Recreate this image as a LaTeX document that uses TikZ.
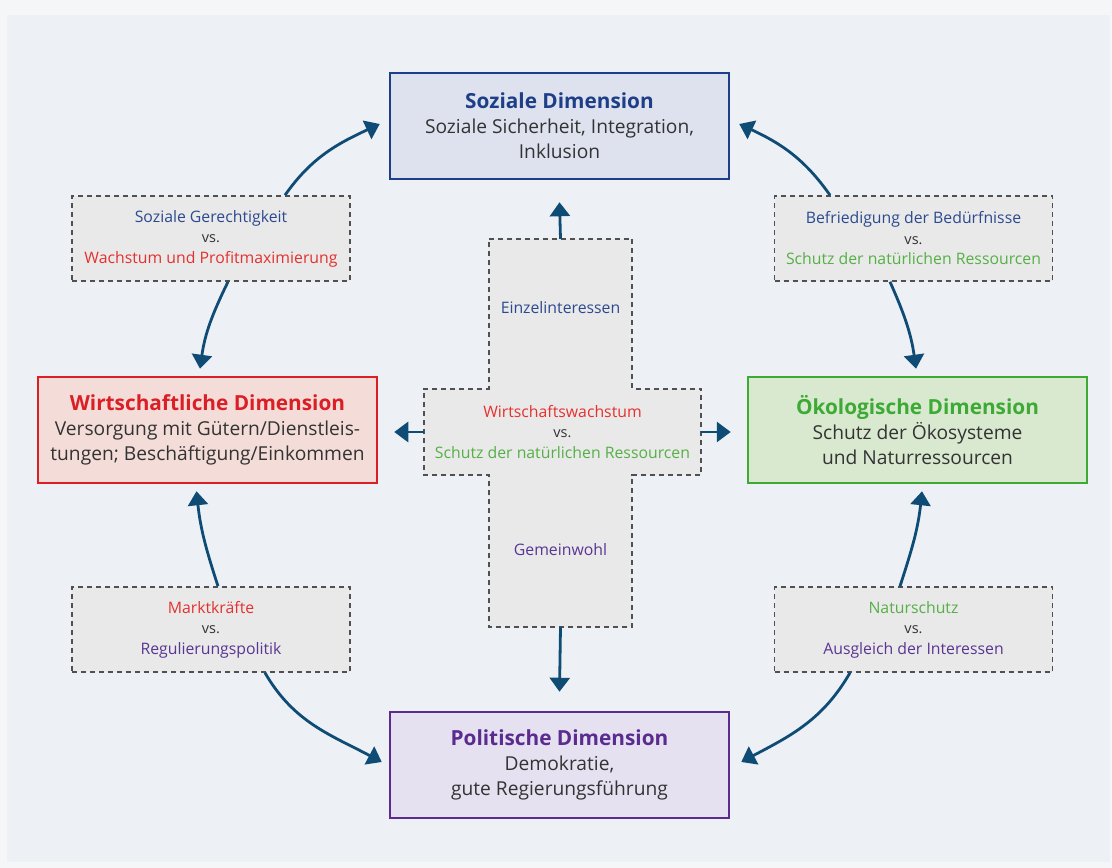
\documentclass[tikz,border=0pt]{standalone}
\usepackage{fontspec}
\setmainfont{Open Sans}
\usetikzlibrary{arrows.meta,calc}
\definecolor{bgout}{HTML}{F5F6F8}
\definecolor{bgin}{HTML}{EDF0F5}
\definecolor{arr}{HTML}{0F4C75}
\definecolor{sozfill}{HTML}{DDE2EE}
\definecolor{sozline}{HTML}{1E3F88}
\definecolor{wirtfill}{HTML}{F4DDD8}
\definecolor{wirtline}{HTML}{DA1F26}
\definecolor{oekofill}{HTML}{D9E9CF}
\definecolor{oekoline}{HTML}{3DAA35}
\definecolor{polfill}{HTML}{E5E1F0}
\definecolor{polline}{HTML}{5B2C8F}
\definecolor{tblue}{HTML}{2B4A8E}
\definecolor{tred}{HTML}{E4312F}
\definecolor{tgreen}{HTML}{55B046}
\definecolor{tpurple}{HTML}{5A3592}
\definecolor{tdark}{HTML}{333333}
\definecolor{boxgray}{HTML}{E9E9E9}
\definecolor{dashgray}{HTML}{505050}
\newcommand{\dimtitle}[2]{{\fontsize{20.8}{25}\selectfont\bfseries\color{#1}#2}}
\newcommand{\vsline}{{\fontsize{14.5}{20.5}\selectfont\color{tdark}vs.}}
\begin{document}
\begin{tikzpicture}[x=1pt,y=1pt,
  dimbox/.style={rectangle, minimum width=339pt, minimum height=106pt, line width=2.5pt,
    align=center, inner sep=0pt, text=tdark, font=\fontsize{19.2}{25}\selectfont},
  dashbox/.style={rectangle, draw=dashgray, line width=1.6pt, dash pattern=on 5pt off 4pt,
    fill=boxgray, minimum width=278pt, minimum height=85pt, align=center, inner sep=0pt,
    font=\fontsize{15.8}{20.5}\selectfont},
  invis/.style={rectangle, inner sep=0pt},
  conn/.style={draw=arr, line width=2.8pt, -{Triangle[length=14pt,width=20pt]}},
  ctext/.style={align=center, font=\fontsize{15.8}{20.5}\selectfont}
]
\fill[bgout] (0,0) rectangle (1112,868);
\fill[bgin] (7,6) rectangle (1110,853);
\useasboundingbox (0,0) rectangle (1112,868);

% main dimension boxes
\node[dimbox, fill=sozfill, draw=sozline] (soz) at (559.5,742)
  {\dimtitle{sozline}{Soziale Dimension}\\Soziale Sicherheit, Integration,\\Inklusion};
\node[dimbox, fill=wirtfill, draw=wirtline] (wirt) at (207.5,438)
  {\dimtitle{wirtline}{Wirtschaftliche Dimension}\\Versorgung mit Gütern/Dienstleis-\\tungen; Beschäftigung/Einkommen};
\node[dimbox, fill=oekofill, draw=oekoline] (oeko) at (917.5,438)
  {\dimtitle{oekoline}{Ökologische Dimension}\\Schutz der Ökosysteme\\und Naturressourcen};
\node[dimbox, fill=polfill, draw=polline] (pol) at (559.5,103)
  {\dimtitle{polline}{Politische Dimension}\\Demokratie,\\gute Regierungsführung};

% dashed conflict boxes
\node[dashbox] (tl) at (211,629.5)
  {\textcolor{tblue}{Soziale Gerechtigkeit}\\\vsline\\\textcolor{tred}{Wachstum und Profitmaximierung}};
\node[dashbox] (tr) at (913.5,629.5)
  {\textcolor{tblue}{Befriedigung der Bedürfnisse}\\\vsline\\\textcolor{tgreen}{Schutz der natürlichen Ressourcen}};
\node[dashbox] (bl) at (211,238.5)
  {\textcolor{tred}{Marktkräfte}\\\vsline\\\textcolor{tpurple}{Regulierungspolitik}};
\node[dashbox] (br) at (913.5,238.5)
  {\textcolor{tgreen}{Naturschutz}\\\vsline\\\textcolor{tpurple}{Ausgleich der Interessen}};

% central cross
\node[invis, minimum width=143pt, minimum height=388pt] (crossV) at (560.5,435) {};
\node[invis, minimum width=277pt, minimum height=86pt] (crossH) at (562.5,436) {};
\draw[draw=dashgray, line width=1.6pt, dash pattern=on 5pt off 4pt, fill=boxgray]
  (crossV.north west) -- (crossV.north east) -- (crossV.east |- crossH.north)
  -- (crossH.north east) -- (crossH.south east) -- (crossV.east |- crossH.south)
  -- (crossV.south east) -- (crossV.south west) -- (crossV.west |- crossH.south)
  -- (crossH.south west) -- (crossH.north west) -- (crossV.west |- crossH.north) -- cycle;
\node[ctext, text=tblue] (einzel) at (560.5,560) {Einzelinteressen};
\node[ctext, text=tpurple] (gemein) at (560.5,318) {Gemeinwohl};
\node[ctext] (mid) at (crossH.center)
  {\textcolor{tred}{Wirtschaftswachstum}\\\vsline\\\textcolor{tgreen}{Schutz der natürlichen Ressourcen}};

% central arrows
\draw[conn] (crossV.north) -- ([yshift=-22pt]soz.south);
\draw[conn] (crossV.south) -- ([yshift=19pt]pol.north);
\draw[conn] (crossH.west) -- ([xshift=16pt]crossH.west -| wirt.east);
\draw[conn] (crossH.east) -- ([xshift=-16pt]crossH.east -| oeko.west);

% curved arrows
\draw[conn] ([xshift=74pt]tl.north) to[out=55,in=205] ([xshift=-9pt,yshift=2pt]soz.west);
\draw[conn] ([xshift=17pt]tl.south) to[out=-116,in=82] ([xshift=-7.5pt,yshift=7pt]wirt.north);
\draw[conn] ([xshift=7pt]bl.north) to[out=108,in=-84] ([xshift=-11pt,yshift=-7pt]wirt.south);
\draw[conn] ([xshift=54pt]bl.south) to[out=-60,in=152] ([xshift=-7pt,yshift=3pt]pol.west);
\draw[conn] ([xshift=-63.5pt]br.south) to[out=-120,in=28] ([xshift=11pt,yshift=3pt]pol.east);
\draw[conn] ([xshift=-13.5pt]br.north) to[out=72,in=-96] ([xshift=4.5pt,yshift=-7pt]oeko.south);
\draw[conn] ([xshift=-23.5pt]tr.south) to[out=-66,in=98] ([xshift=-1.5pt,yshift=7pt]oeko.north);
\draw[conn] ([xshift=-83.5pt]tr.north) to[out=125,in=-25] ([xshift=9pt,yshift=2pt]soz.east);
\end{tikzpicture}
\end{document}
